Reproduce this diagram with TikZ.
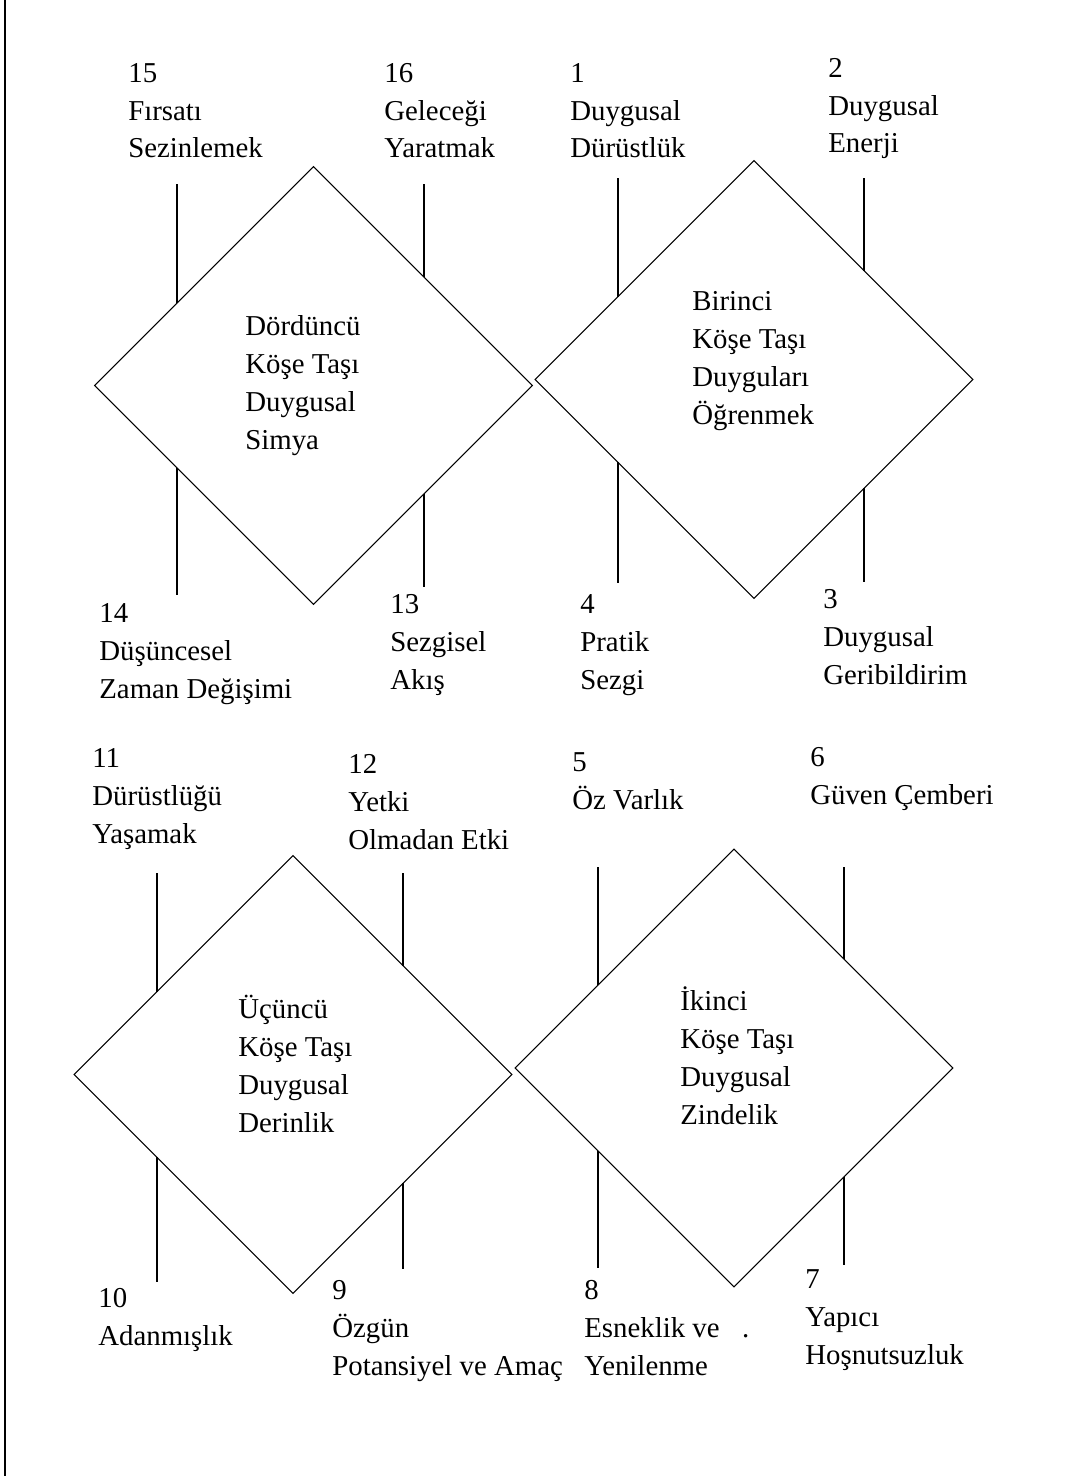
\documentclass[tikz,border=0pt]{standalone}
\usepackage{fontspec}
\setmainfont{Liberation Serif}
\usetikzlibrary{shapes.geometric, calc}

\begin{document}
\begin{tikzpicture}[
    x=0.02cm, y=-0.02cm,
    every node/.style={font=\fontsize{16.4}{21.6}\selectfont},
    stone/.style={
        diamond,
        minimum width=8.76cm,
        minimum height=8.76cm,
        inner sep=0pt,
        outer sep=0pt,
        draw=black,
        line width=0.6pt
    },
    itembox/.style={
        align=left,
        anchor=base west,
        inner sep=0pt
    },
    stem/.style={line width=1.1pt}
]

\useasboundingbox (0,0) rectangle (1082,1476);
\draw [line width=1.7pt] (5,0) -- (5,1476);

% the four corner stones
\node (dord) [stone] at (313.5,385.5) {};
\node (bir)  [stone] at (754,379.5)   {};
\node (ucun) [stone] at (293,1074.5)  {};
\node (iki)  [stone] at (734,1068)    {};

% texts sit on the baseline of their last line
\node (dordtxt) [itembox] at (245,449)  {Dördüncü\\Köşe Taşı\\Duygusal\\Simya};
\node (birtxt)  [itembox] at (692,424)  {Birinci\\Köşe Taşı\\Duyguları\\Öğrenmek};
\node (ucuntxt) [itembox] at (238,1132) {Üçüncü\\Köşe Taşı\\Duygusal\\Derinlik};
\node (ikitxt)  [itembox] at (680,1124) {İkinci\\Köşe Taşı\\Duygusal\\Zindelik};

% numbered items
\node (i15) [itembox] at (128,158)  {15\\Fırsatı\\Sezinlemek};
\node (i16) [itembox] at (384,158)  {16\\Geleceği\\Yaratmak};
\node (i1)  [itembox] at (570,158)  {1\\Duygusal\\Dürüstlük};
\node (i2)  [itembox] at (828,153)  {2\\Duygusal\\Enerji};
\node (i14) [itembox] at (99,698)   {14\\Düşüncesel\\Zaman Değişimi};
\node (i13) [itembox] at (390,689)  {13\\Sezgisel\\Akış};
\node (i4)  [itembox] at (580,689)  {4\\Pratik\\Sezgi};
\node (i3)  [itembox] at (823,684)  {3\\Duygusal\\Geribildirim};
\node (i11) [itembox] at (92,843)   {11\\Dürüstlüğü\\Yaşamak};
\node (i12) [itembox] at (348,849)  {12\\Yetki\\Olmadan Etki};
\node (i5)  [itembox] at (572,809)  {5\\Öz Varlık};
\node (i6)  [itembox] at (810,804)  {6\\Güven Çemberi};
\node (i10) [itembox] at (98,1345)  {10\\Adanmışlık};
\node (i9)  [itembox] at (332,1375) {9\\Özgün\\Potansiyel ve Amaç};
\node (i8)  [itembox] at (584,1375) {8\\Esneklik ve\hspace{0.45cm}.\\Yenilenme};
\node (i7)  [itembox] at (805,1364) {7\\Yapıcı\\Hoşnutsuzluk};

% stems on the stone edges
\coordinate (e15) at ($(dord.west)!.378!(dord.north)$);
\coordinate (e16) at ($(dord.north)!.503!(dord.east)$);
\coordinate (e14) at ($(dord.west)!.378!(dord.south)$);
\coordinate (e13) at ($(dord.south)!.503!(dord.east)$);
\coordinate (e1)  at ($(bir.west)!.378!(bir.north)$);
\coordinate (e2)  at ($(bir.north)!.503!(bir.east)$);
\coordinate (e4)  at ($(bir.west)!.378!(bir.south)$);
\coordinate (e3)  at ($(bir.south)!.503!(bir.east)$);
\coordinate (e11) at ($(ucun.west)!.378!(ucun.north)$);
\coordinate (e12) at ($(ucun.north)!.503!(ucun.east)$);
\coordinate (e10) at ($(ucun.west)!.378!(ucun.south)$);
\coordinate (e9)  at ($(ucun.south)!.503!(ucun.east)$);
\coordinate (e5)  at ($(iki.west)!.378!(iki.north)$);
\coordinate (e6)  at ($(iki.north)!.503!(iki.east)$);
\coordinate (e8)  at ($(iki.west)!.378!(iki.south)$);
\coordinate (e7)  at ($(iki.south)!.503!(iki.east)$);

\foreach \n/\y in {15/184, 16/184, 14/595, 13/587,
                   1/178, 2/178, 4/583, 3/582,
                   11/873, 12/873, 10/1282, 9/1269,
                   5/867, 6/867, 8/1268, 7/1265}
    \draw [stem] (e\n) -- (e\n |- 0,\y);

\end{tikzpicture}
\end{document}
